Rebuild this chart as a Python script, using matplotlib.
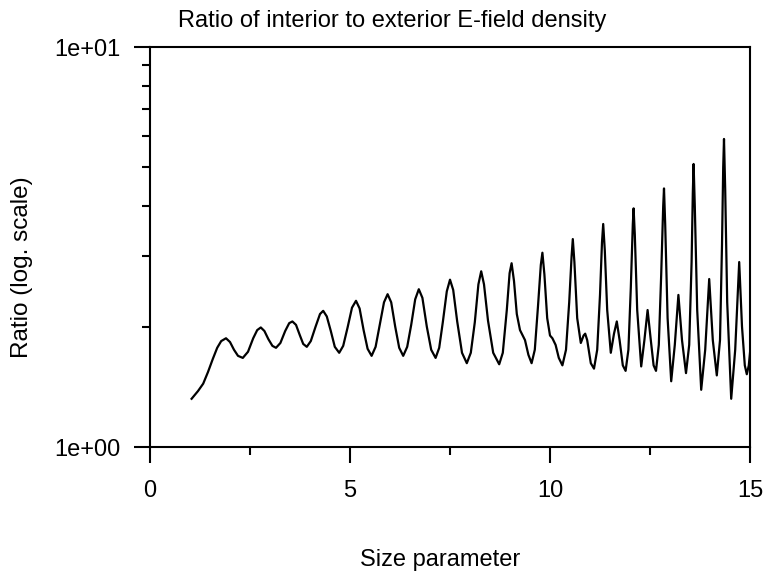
import matplotlib
matplotlib.use("Agg")
import matplotlib.pyplot as plt
from matplotlib.ticker import FixedLocator, FixedFormatter, NullFormatter

# ----------------------------------------------------------DATA----------------------------------------------------------#
# size parameter
size_param = [
    1.04, 1.20, 1.33, 1.45, 1.57, 1.68, 1.78, 1.90, 2.00, 2.10, 2.20, 2.32, 2.45, 2.58, 2.68, 2.77,
    2.86, 2.96, 3.06, 3.15, 3.26, 3.38, 3.48, 3.56, 3.65, 3.74, 3.83, 3.92, 4.02, 4.14, 4.25, 4.33,
    4.42, 4.52, 4.62, 4.73, 4.83, 4.94, 5.05, 5.15, 5.24, 5.34, 5.44, 5.54, 5.64, 5.74, 5.85, 5.94,
    6.03, 6.13, 6.23, 6.33, 6.43, 6.53, 6.63, 6.72, 6.81, 6.92, 7.03, 7.14, 7.23, 7.32, 7.42, 7.50,
    7.58, 7.68, 7.80, 7.92, 8.02, 8.12, 8.21, 8.28, 8.35, 8.45, 8.58, 8.73, 8.82, 8.92, 8.99, 9.04,
    9.10, 9.17, 9.25, 9.375, 9.46, 9.54, 9.62, 9.70, 9.77, 9.81, 9.86, 9.93, 10.00, 10.06, 10.14, 10.22,
    10.31, 10.40, 10.48, 10.54, 10.57, 10.61, 10.68, 10.77, 10.84, 10.88, 10.93, 11.02, 11.10, 11.18, 11.25, 11.30,
    11.33, 11.37, 11.43, 11.52, 11.60, 11.67, 11.74, 11.82, 11.89, 11.96, 12.02, 12.07, 12.09, 12.12, 12.18, 12.28,
    12.36, 12.44, 12.52, 12.59, 12.65, 12.72, 12.78, 12.83, 12.85, 12.88, 12.94, 13.03, 13.12, 13.21, 13.30, 13.40,
    13.48, 13.54, 13.57, 13.59, 13.62, 13.68, 13.78, 13.88, 13.98, 14.07, 14.17, 14.25, 14.30, 14.33, 14.35, 14.38,
    14.43, 14.53, 14.63, 14.73, 14.80, 14.87, 14.92, 14.97, 15.00,
]
# ratio of interior to exterior E-field density
ratio = [
    1.32, 1.38, 1.44, 1.54, 1.66, 1.77, 1.84, 1.87, 1.83, 1.75, 1.69, 1.67, 1.73, 1.87, 1.96, 1.99,
    1.95, 1.86, 1.79, 1.77, 1.82, 1.95, 2.04, 2.06, 2.02, 1.91, 1.81, 1.78, 1.84, 2.00, 2.15, 2.19,
    2.12, 1.95, 1.78, 1.72, 1.79, 1.99, 2.23, 2.32, 2.22, 1.96, 1.76, 1.69, 1.78, 2.01, 2.30, 2.41,
    2.30, 2.00, 1.77, 1.69, 1.78, 2.02, 2.34, 2.48, 2.36, 2.00, 1.75, 1.67, 1.77, 2.05, 2.45, 2.62,
    2.47, 2.06, 1.72, 1.62, 1.72, 2.05, 2.55, 2.75, 2.55, 2.07, 1.72, 1.61, 1.72, 2.20, 2.72, 2.88,
    2.60, 2.15, 1.96, 1.85, 1.70, 1.62, 1.75, 2.25, 2.85, 3.06, 2.70, 2.10, 1.90, 1.87, 1.80, 1.67,
    1.60, 1.75, 2.30, 3.00, 3.31, 2.90, 2.10, 1.82, 1.90, 1.92, 1.85, 1.62, 1.57, 1.75, 2.40, 3.25,
    3.61, 3.10, 2.20, 1.72, 1.92, 2.06, 1.85, 1.60, 1.55, 1.75, 2.50, 3.60, 3.95, 3.40, 2.20, 1.59,
    1.85, 2.20, 1.85, 1.60, 1.55, 1.80, 2.70, 4.00, 4.43, 3.60, 2.10, 1.46, 1.80, 2.40, 1.85, 1.53,
    1.80, 2.90, 4.30, 5.10, 4.00, 2.20, 1.39, 1.75, 2.63, 1.85, 1.51, 1.85, 3.20, 5.00, 5.89, 4.40,
    2.30, 1.32, 1.75, 2.90, 2.00, 1.60, 1.52, 1.60, 1.72,
]
x_major = [0, 5, 10, 15]
x_minor = [2.5, 7.5, 12.5]
y_major = [1, 10]
y_major_labels = ['1e+00', '1e+01']
y_minor = [2, 3, 4, 5, 6, 7, 8, 9]

# ----------------------------------------------------------PLOT----------------------------------------------------------#
plt.rcParams['font.family'] = ['Liberation Sans', 'DejaVu Sans']
fig = plt.figure(figsize=(7.65, 5.78), dpi=100)
ax = fig.add_axes([150 / 765, 1 - 447 / 578, 600 / 765, 400 / 578])

ax.plot(size_param, ratio, color='black', linewidth=1.6)

ax.set_yscale('log')
ax.set_xlim(0, 15)
ax.set_ylim(1, 10)

ax.xaxis.set_major_locator(FixedLocator(x_major))
ax.xaxis.set_minor_locator(FixedLocator(x_minor))
ax.xaxis.set_minor_formatter(NullFormatter())
ax.yaxis.set_major_locator(FixedLocator(y_major))
ax.yaxis.set_major_formatter(FixedFormatter(y_major_labels))
ax.yaxis.set_minor_locator(FixedLocator(y_minor))
ax.yaxis.set_minor_formatter(NullFormatter())

for s in ax.spines.values():
    s.set_linewidth(1.5)
ax.tick_params(which='major', direction='out', length=11.5, width=1.5, labelsize=17, pad=10)
ax.tick_params(which='minor', direction='out', length=5.8, width=1.5)
ax.tick_params(axis='x', which='major', pad=12)

fig.text(392 / 765, 1 - 21 / 578, 'Ratio of interior to exterior E-field density',
         ha='center', va='center', fontsize=17)
fig.text(440 / 765, 1 - 560 / 578, 'Size parameter', ha='center', va='center', fontsize=17)
fig.text(22 / 765, 1 - 267 / 578, 'Ratio (log. scale)', ha='center', va='center',
         rotation=90, fontsize=17.5)

fig.savefig('out.png', dpi=100)
